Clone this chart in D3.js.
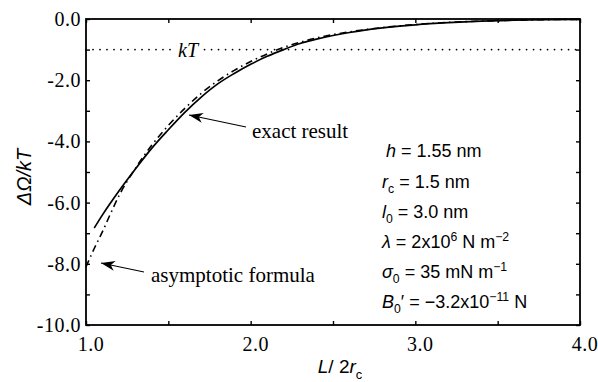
<!DOCTYPE html>
<html>
<head>
<meta charset="utf-8">
<script src="https://cdn.jsdelivr.net/npm/d3@7"></script>
<style>
  body { margin: 0; background: #fff; }
  svg { display: block; }
</style>
</head>
<body>
<script>
// values
var exactL = [1.05, 1.1, 1.2, 1.3, 1.4, 1.5, 1.6, 1.7, 1.8, 1.9, 2.0, 2.1, 2.2, 2.3, 2.4, 2.5, 2.6, 2.8, 3.0, 3.2, 3.4, 3.6, 3.8, 4.0];
var exactV = [-6.83, -6.40, -5.62, -4.90, -4.22, -3.62, -3.05, -2.55, -2.12, -1.78, -1.48, -1.22, -1.00, -0.80, -0.66, -0.54, -0.44, -0.29, -0.19, -0.12, -0.07, -0.04, -0.02, -0.01];

var asymL = [1.0, 1.05, 1.1, 1.15, 1.2, 1.3, 1.4, 1.5, 1.6, 1.7, 1.8, 1.9, 2.0, 2.1, 2.2, 2.3, 2.4, 2.5, 2.6, 2.8, 3.0, 3.2, 3.4, 3.6, 3.8, 4.0];
var asymV = [-8.10, -7.50, -6.95, -6.35, -5.78, -4.88, -4.12, -3.48, -2.92, -2.43, -2.02, -1.68, -1.39, -1.14, -0.93, -0.76, -0.62, -0.51, -0.42, -0.28, -0.18, -0.11, -0.07, -0.04, -0.02, -0.01];

var kTLevel = -1.0;

var xTicks = [1.0, 1.5, 2.0, 2.5, 3.0, 3.5, 4.0];
var xLabels = [1.0, 2.0, 3.0, 4.0];
var yTicks = [0, -1, -2, -3, -4, -5, -6, -7, -8, -9, -10];
var yLabels = [0, -2, -4, -6, -8, -10];

var width = 598, height = 382;

var svg = d3.select("body")
    .append("svg")
    .attr("width", width)
    .attr("height", height);

svg.append("rect")
    .attr("width", width)
    .attr("height", height)
    .attr("fill", "#fff");

var x = d3.scaleLinear().domain([1, 4]).range([86, 580]);
var y = d3.scaleLinear().domain([-10, 0]).range([325, 19]);

var serif = "'Liberation Serif', 'Times New Roman', serif";
var sans = "'Liberation Sans', Arial, sans-serif";

// frame
svg.append("rect")
    .attr("x", x(1))
    .attr("y", y(0))
    .attr("width", x(4) - x(1))
    .attr("height", y(-10) - y(0))
    .attr("fill", "none")
    .attr("stroke", "#000")
    .attr("stroke-width", 1.8);

// inward ticks on all four sides
var tickLen = 4;
var axes = [
    d3.axisBottom(x).tickValues(xTicks).tickSize(-tickLen).tickFormat(""),
    d3.axisTop(x).tickValues(xTicks).tickSize(-tickLen).tickFormat(""),
    d3.axisLeft(y).tickValues(yTicks).tickSize(-tickLen).tickFormat(""),
    d3.axisRight(y).tickValues(yTicks).tickSize(-tickLen).tickFormat("")
];
var shifts = ["translate(0," + y(-10) + ")", "translate(0," + y(0) + ")",
              "translate(" + x(1) + ",0)", "translate(" + x(4) + ",0)"];
axes.forEach(function (a, i) {
    var g = svg.append("g").attr("transform", shifts[i]).call(a);
    g.select(".domain").remove();
    g.selectAll(".tick line").attr("stroke", "#000").attr("stroke-width", 1.4);
});

// tick labels
svg.append("g")
    .selectAll("text")
    .data(xLabels)
    .enter().append("text")
    .attr("x", function (d) { return x(d) + 5; })
    .attr("y", 351)
    .attr("text-anchor", "middle")
    .style("font-family", serif)
    .style("font-size", "20px")
    .style("letter-spacing", "0.5px")
    .text(function (d) { return d.toFixed(1); });

svg.append("g")
    .selectAll("text")
    .data(yLabels)
    .enter().append("text")
    .attr("x", 81)
    .attr("y", function (d) { return y(d) + 7; })
    .attr("text-anchor", "end")
    .style("font-family", serif)
    .style("font-size", "20px")
    .style("letter-spacing", "0.5px")
    .text(function (d) { return d.toFixed(1); });

// kT reference line (dotted, broken around its label)
var dotted = [[x(1), x(1.52)], [x(1.72), x(4)]];
dotted.forEach(function (s) {
    svg.append("line")
        .attr("x1", s[0]).attr("x2", s[1])
        .attr("y1", y(kTLevel)).attr("y2", y(kTLevel))
        .attr("stroke", "#000")
        .attr("stroke-width", 1.8)
        .attr("stroke-linecap", "round")
        .attr("stroke-dasharray", "0,7");
});
svg.append("text")
    .attr("x", x(1.62))
    .attr("y", y(kTLevel) + 7)
    .attr("text-anchor", "middle")
    .style("font-family", serif)
    .style("font-style", "italic")
    .style("font-size", "20px")
    .text("kT");

// curves
var line = d3.line()
    .x(function (d) { return x(d[0]); })
    .y(function (d) { return y(d[1]); })
    .curve(d3.curveMonotoneX);

svg.append("path")
    .datum(asymL.map(function (l, i) { return [l, asymV[i]]; }))
    .attr("d", line)
    .attr("fill", "none")
    .attr("stroke", "#000")
    .attr("stroke-width", 1.6)
    .attr("stroke-dasharray", "7,4,1.5,4");

svg.append("path")
    .datum(exactL.map(function (l, i) { return [l, exactV[i]]; }))
    .attr("d", line)
    .attr("fill", "none")
    .attr("stroke", "#000")
    .attr("stroke-width", 1.7);

// annotations with arrows
svg.append("defs").append("marker")
    .attr("id", "arr")
    .attr("viewBox", "0 0 14 10")
    .attr("refX", 14).attr("refY", 5)
    .attr("markerWidth", 14).attr("markerHeight", 10)
    .attr("markerUnits", "userSpaceOnUse")
    .attr("orient", "auto")
    .append("path")
    .attr("d", "M14,5 L0,0 L4,5 L0,10 Z")
    .attr("fill", "#000");

var notes = [
    { text: "exact result", tx: 252, ty: 138, x1: 246, y1: 127, x2: 189, y2: 115 },
    { text: "asymptotic formula", tx: 151, ty: 282, x1: 144, y1: 272, x2: 101, y2: 263 }
];
notes.forEach(function (n) {
    svg.append("line")
        .attr("x1", n.x1).attr("y1", n.y1)
        .attr("x2", n.x2).attr("y2", n.y2)
        .attr("stroke", "#000")
        .attr("stroke-width", 1.1)
        .attr("marker-end", "url(#arr)");
    svg.append("text")
        .attr("x", n.tx).attr("y", n.ty)
        .style("font-family", serif)
        .style("font-size", "21px")
        .text(n.text);
});

// rich text helper: parts are [string, kind] with kind "", "i", "sub", "sup"
function rich(sel, parts, size) {
    var shift = 0;
    parts.forEach(function (p) {
        var t = sel.append("tspan").text(p[0]);
        var kind = p[1] || "";
        var want = kind.indexOf("sub") >= 0 ? size * 0.3 : kind.indexOf("sup") >= 0 ? -size * 0.4 : 0;
        t.attr("dy", want - shift);
        shift = want;
        if (kind.indexOf("i") >= 0) t.style("font-style", "italic");
        if (want !== 0) t.style("font-size", (size * 0.68) + "px");
    });
}

// parameter block
var params = [
    [["h", "i"], [" = 1.55 nm"]],
    [["r", "i"], ["c", "sub"], [" = 1.5 nm"]],
    [["l", "i"], ["0", "sub"], [" = 3.0 nm"]],
    [["λ", "i"], [" = 2x10"], ["6", "sup"], [" N m"], ["\u22122", "sup"]],
    [["σ", "i"], ["0", "sub"], [" = 35 mN m"], ["\u22121", "sup"]],
    [["B", "i"], ["0", "sub"], ["\u2032 = \u22123.2x10"], ["\u221211", "sup"], [" N"]]
];
var paramY = [157, 188, 218, 248, 278, 308];
params.forEach(function (p, i) {
    var t = svg.append("text")
        .attr("x", i === 0 ? 386 : 382)
        .attr("y", paramY[i])
        .style("font-family", sans)
        .style("font-size", "18px");
    rich(t, p, 18);
});

// axis titles
var yt = svg.append("text")
    .attr("transform", "translate(31,177) rotate(-90)")
    .attr("text-anchor", "middle")
    .style("font-family", sans)
    .style("font-style", "italic")
    .style("font-size", "20px");
rich(yt, [["ΔΩ/kT", "i"]], 20);

var xt = svg.append("text")
    .attr("x", 340)
    .attr("y", 373)
    .attr("text-anchor", "middle")
    .style("font-family", sans)
    .style("font-size", "19px");
rich(xt, [["L", "i"], ["/ 2"], ["r", "i"], ["c", "sub"]], 19);
</script>
</body>
</html>
